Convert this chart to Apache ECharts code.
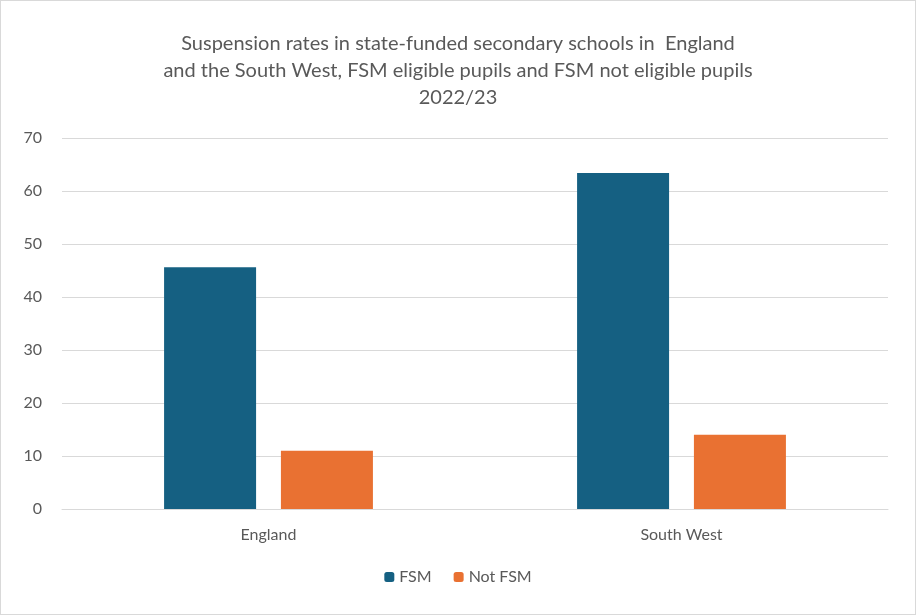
<!DOCTYPE html>
<html>
<head>
<meta charset="utf-8">
<script src="https://cdn.jsdelivr.net/npm/echarts@6/dist/echarts.min.js"></script>
<style>
  html, body { margin: 0; padding: 0; background: #fff; }
  #chart { width: 914px; height: 613px; border: 1px solid #d9d9d9; }
</style>
</head>
<body>
<div id="chart"></div>
<script>
// 数据
const categories = ['England', 'South West'];
const fsmValues = [45.6, 63.4];
const notFsmValues = [11.0, 14.0];
const yTicks = [0, 70, 10];

const chart = echarts.init(document.getElementById('chart'));

chart.setOption({
    animation: false,
    title: {
        text: 'Suspension rates in state-funded secondary schools in  England\nand the South West, FSM eligible pupils and FSM not eligible pupils\n2022/23',
        left: 'center',
        top: 24,
        textStyle: { color: '#595959', fontSize: 20, fontWeight: 'normal', fontFamily: 'Lato', lineHeight: 27 }
    },
    legend: {
        bottom: 24,
        itemWidth: 10,
        itemHeight: 10,
        itemGap: 22,
        textStyle: { color: '#595959', fontSize: 16, fontFamily: 'Lato' },
        data: ['FSM', 'Not FSM']
    },
    grid: { left: 61, right: 27, top: 137, bottom: 105 },
    xAxis: {
        type: 'category',
        data: categories,
        axisTick: { show: false },
        axisLine: { lineStyle: { color: '#d9d9d9' } },
        axisLabel: { color: '#595959', fontSize: 16, fontFamily: 'Lato', margin: 18 }
    },
    yAxis: {
        type: 'value',
        min: yTicks[0],
        max: yTicks[1],
        interval: yTicks[2],
        axisLabel: { color: '#595959', fontSize: 16, fontFamily: 'Lato', margin: 20 },
        splitLine: { lineStyle: { color: '#d9d9d9' } }
    },
    series: [
        {
            name: 'FSM', type: 'bar', data: fsmValues,
            barWidth: 92, barGap: '27%',
            itemStyle: { color: '#156082' }
        },
        {
            name: 'Not FSM', type: 'bar', data: notFsmValues,
            barWidth: 92,
            itemStyle: { color: '#E97132' }
        }
    ]
});
</script>
</body>
</html>
